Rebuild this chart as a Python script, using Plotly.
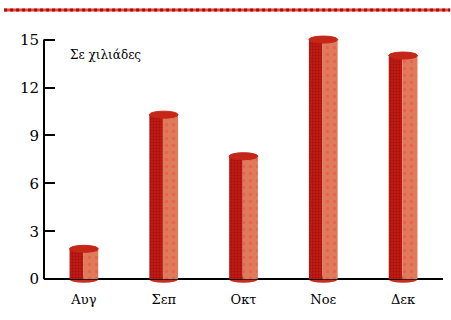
import plotly.graph_objects as go

# Monthly figures, in thousands
months = ["Αυγ", "Σεπ", "Οκτ", "Νοε", "Δεκ"]
values = [1.9, 10.3, 7.7, 15.0, 14.0]
y_ticks = [0, 3, 6, 9, 12, 15]
unit_label = "Σε χιλιάδες"

SERIF = "DejaVu Serif, Liberation Serif, serif"

DARK_W = 0.17    # shaded left side of each cylinder (category units)
LIGHT_W = 0.19   # lit right side
HALF = (DARK_W + LIGHT_W) / 2
CAP_H = 0.22     # half-height of the elliptical caps (data units)

fig = go.Figure()

# left (shaded) half of each cylinder
fig.add_trace(go.Bar(
    x=months, y=values, width=DARK_W, offset=-HALF,
    marker=dict(color="#b8140e", line=dict(width=0),
                pattern=dict(shape=".", bgcolor="#bd1a12", fgcolor="#8e0606",
                             size=3, solidity=0.35)),
    hoverinfo="skip", showlegend=False,
))
# right (lit) half of each cylinder
fig.add_trace(go.Bar(
    x=months, y=values, width=LIGHT_W, offset=-HALF + DARK_W,
    marker=dict(color="#de7556", line=dict(width=0),
                pattern=dict(shape=".", bgcolor="#df7a5a", fgcolor="#f04a4a",
                             size=7, solidity=0.18)),
    hoverinfo="skip", showlegend=False,
))

shapes = []
for i, v in enumerate(values):
    # rounded bottom under the baseline
    shapes.append(dict(type="circle", xref="x", yref="y", layer="below",
                       x0=i - HALF, x1=i + HALF, y0=-CAP_H, y1=CAP_H,
                       fillcolor="#c4301e", line=dict(width=0)))
    # elliptical top cap
    shapes.append(dict(type="circle", xref="x", yref="y", layer="above",
                       x0=i - HALF, x1=i + HALF, y0=v - CAP_H, y1=v + CAP_H,
                       fillcolor="#c42618", line=dict(color="#c42618", width=1)))

# y axis line from 0 to the top tick
shapes.append(dict(type="line", xref="paper", yref="y", x0=0, x1=0,
                   y0=0, y1=y_ticks[-1], line=dict(color="black", width=2)))
# decorative rule across the top
shapes.append(dict(type="line", xref="paper", yref="paper", x0=-0.1, x1=1.018,
                   y0=1.079, y1=1.079, line=dict(color="#e04a3a", width=3)))
shapes.append(dict(type="line", xref="paper", yref="paper", x0=-0.1, x1=1.018,
                   y0=1.079, y1=1.079, line=dict(color="#b00c0c", width=3, dash="dot")))

fig.update_layout(
    width=451, height=320,
    margin=dict(l=44, r=8, t=30, b=36),
    paper_bgcolor="white", plot_bgcolor="white",
    barmode="overlay",
    shapes=shapes,
    font=dict(family=SERIF, color="black"),
    xaxis=dict(type="category", range=[-0.5, 4.5], showline=False, showgrid=False,
               ticks="", tickfont=dict(size=13, family=SERIF),
               ticklabelstandoff=6, fixedrange=True),
    yaxis=dict(range=[-0.3, 15.6], tickvals=y_ticks, showgrid=False, showline=False,
               zeroline=True, zerolinecolor="black", zerolinewidth=2,
               ticks="inside", ticklen=11, tickwidth=2, tickcolor="black",
               tickfont=dict(size=15, family=SERIF), ticklabelstandoff=4,
               fixedrange=True),
    annotations=[dict(text=unit_label, xref="paper", yref="y", x=0.06, y=14.05,
                      xanchor="left", yanchor="middle", showarrow=False,
                      font=dict(size=12, family=SERIF, color="black"))],
)

fig.write_html("out.html")
